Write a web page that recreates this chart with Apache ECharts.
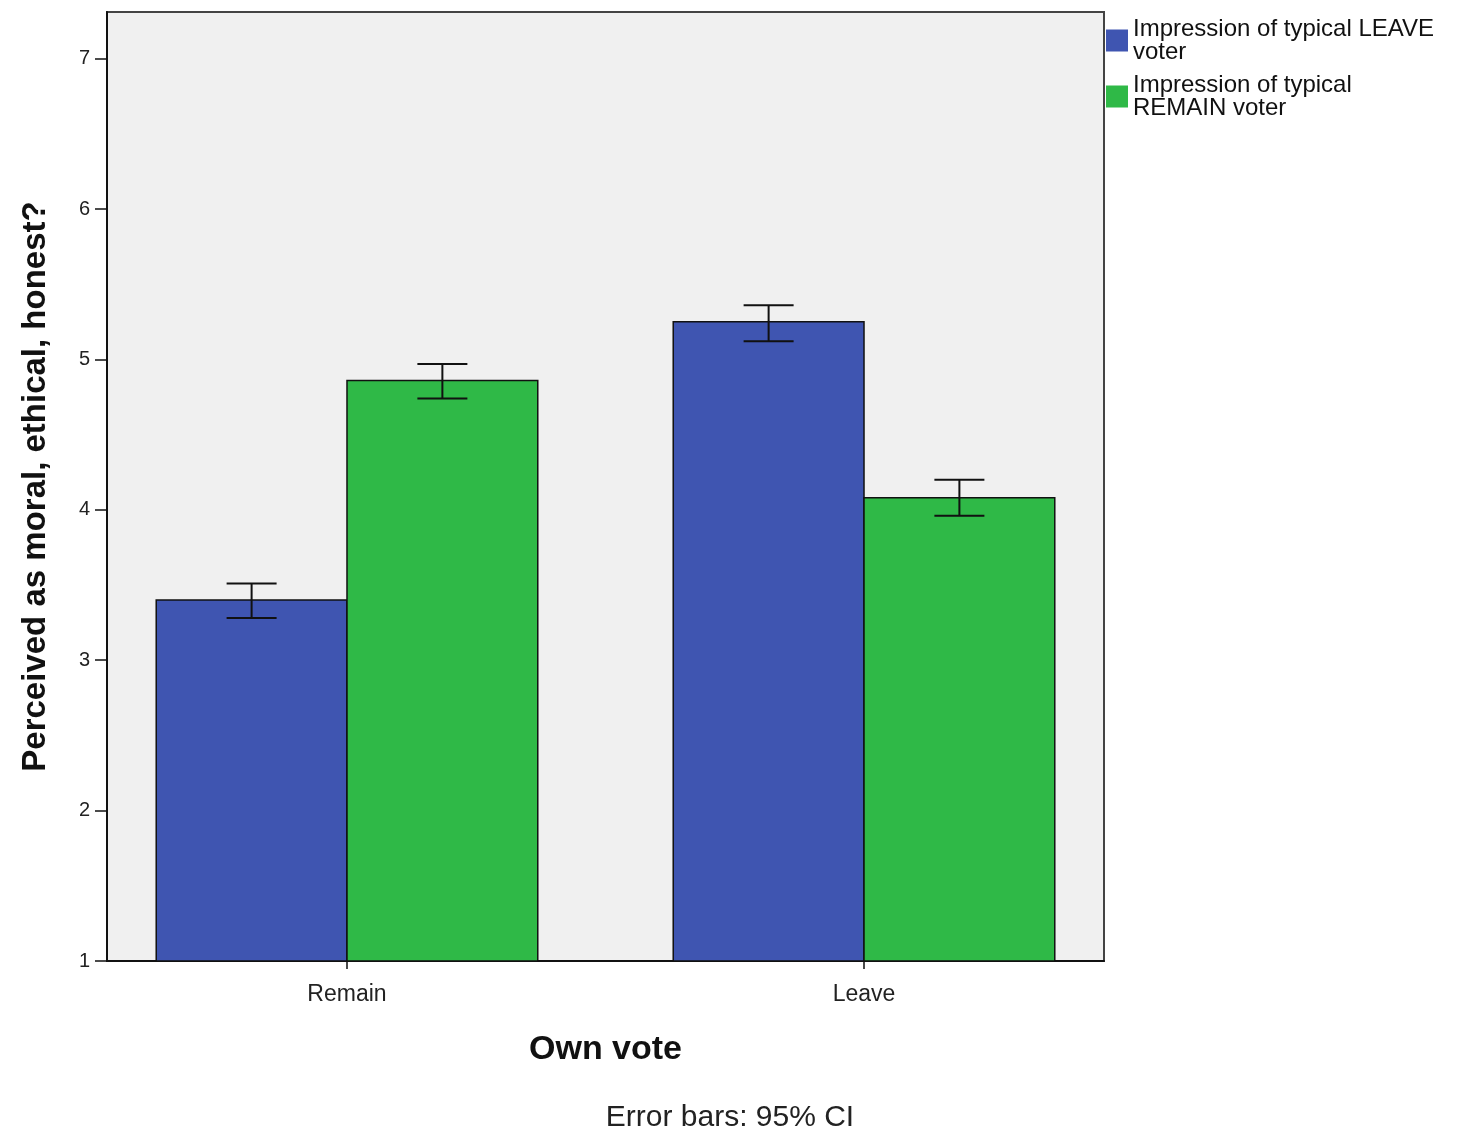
<!DOCTYPE html>
<html>
<head>
<meta charset="utf-8">
<script src="https://cdn.jsdelivr.net/npm/echarts@6/dist/echarts.min.js"></script>
<style>html,body{margin:0;padding:0;background:#fff}#c{width:1468px;height:1136px}</style>
</head>
<body>
<div id="c"></div>
<script>
const categories = ['Remain', 'Leave'];
const seriesNames = ['Impression of typical LEAVE voter', 'Impression of typical REMAIN voter'];
const legendLabels = ['Impression of typical LEAVE\nvoter', 'Impression of typical\nREMAIN voter'];
const leaveImpression = [3.40, 5.25];
const remainImpression = [4.86, 4.08];
const leaveLow = [3.28, 5.12];
const leaveHigh = [3.51, 5.36];
const remainLow = [4.74, 3.96];
const remainHigh = [4.97, 4.20];
const yTicks = [1, 2, 3, 4, 5, 6, 7];

const BLUE = '#3f55b1';
const GREEN = '#2fb947';
const BAR_UNITS = 0.369; // bar width in x-axis units

function barRender(side) {
  return function (params, api) {
    const cat = api.value(0), v = api.value(1);
    const top = api.coord([cat, v]);
    const base = api.coord([cat, 1]);
    const w = api.size([BAR_UNITS, 0])[0];
    const x0 = side < 0 ? top[0] - w : top[0];
    return {
      type: 'rect',
      shape: { x: x0, y: top[1], width: w, height: base[1] - top[1] },
      style: {
        fill: api.visual('color'),
        stroke: '#111',
        lineWidth: 1.5
      }
    };
  };
}

function errRender(side) {
  return function (params, api) {
    const cat = api.value(0);
    const lo = api.coord([cat, api.value(1)]);
    const hi = api.coord([cat, api.value(2)]);
    const w = api.size([BAR_UNITS, 0])[0];
    const cx = lo[0] + side * w / 2;
    const cap = 25;
    const st = { stroke: '#111', lineWidth: 2 };
    return {
      type: 'group',
      children: [
        { type: 'line', shape: { x1: cx, y1: lo[1], x2: cx, y2: hi[1] }, style: st },
        { type: 'line', shape: { x1: cx - cap, y1: hi[1], x2: cx + cap, y2: hi[1] }, style: st },
        { type: 'line', shape: { x1: cx - cap, y1: lo[1], x2: cx + cap, y2: lo[1] }, style: st }
      ]
    };
  };
}

const chart = echarts.init(document.getElementById('c'), null, { renderer: 'canvas' });
const font = '"Liberation Sans", Arial, sans-serif';

chart.setOption({
  animation: false,
  textStyle: { fontFamily: font },
  grid: {
    left: 107, right: 364, top: 12, bottom: 175,
    show: true, backgroundColor: '#f0f0f0', borderColor: '#444', borderWidth: 2
  },
  legend: {
    orient: 'vertical',
    left: 1101, top: 12,
    itemWidth: 22, itemHeight: 22, itemGap: 9,
    icon: 'rect',
    data: seriesNames,
    textStyle: { fontSize: 24, color: '#111', lineHeight: 23, fontFamily: font },
    formatter: function (n) { return legendLabels[seriesNames.indexOf(n)]; }
  },
  xAxis: {
    type: 'value',
    min: -0.4642, max: 1.4642,
    splitLine: { show: false },
    axisLine: { show: true, onZero: false, lineStyle: { color: '#111', width: 2 } },
    axisTick: { show: true, customValues: [0, 1], length: 8, inside: false, lineStyle: { color: '#111', width: 1.5 } },
    axisLabel: {
      customValues: [0, 1], fontSize: 23, color: '#222', margin: 22,
      formatter: function (v) { return categories[Math.round(v)]; }
    },
    name: 'Own vote', nameLocation: 'middle', nameGap: 72,
    nameTextStyle: { fontSize: 34, fontWeight: 'bold', color: '#111' }
  },
  yAxis: {
    type: 'value',
    min: 1, max: 7.31, interval: 1,
    splitLine: { show: false },
    axisLine: { show: true, onZero: false, lineStyle: { color: '#111', width: 2 } },
    axisTick: { show: true, length: 12, lineStyle: { color: '#111', width: 1.5 } },
    axisLabel: {
      fontSize: 20, color: '#222', margin: 17, showMaxLabel: false,
      formatter: function (v) { return yTicks.indexOf(v) >= 0 ? String(v) : ''; }
    },
    name: 'Perceived as moral, ethical, honest?', nameLocation: 'middle', nameGap: 55,
    nameTextStyle: { fontSize: 33, fontWeight: 'bold', color: '#111' }
  },
  graphic: [{
    type: 'text', x: 730, y: 1118,
    style: { text: 'Error bars: 95% CI', fontSize: 30, fill: '#222', textAlign: 'center', textVerticalAlign: 'middle', fontFamily: font }
  }],
  series: [
    {
      name: seriesNames[0], type: 'custom', renderItem: barRender(-1),
      itemStyle: { color: BLUE },
      encode: { x: 0, y: 1 },
      data: categories.map((c, i) => [i, leaveImpression[i]]), z: 2
    },
    {
      name: seriesNames[1], type: 'custom', renderItem: barRender(1),
      itemStyle: { color: GREEN },
      encode: { x: 0, y: 1 },
      data: categories.map((c, i) => [i, remainImpression[i]]), z: 2
    },
    {
      name: 'ciLeave', type: 'custom', renderItem: errRender(-1),
      encode: { x: 0, y: [1, 2] },
      data: categories.map((c, i) => [i, leaveLow[i], leaveHigh[i]]), z: 3
    },
    {
      name: 'ciRemain', type: 'custom', renderItem: errRender(1),
      encode: { x: 0, y: [1, 2] },
      data: categories.map((c, i) => [i, remainLow[i], remainHigh[i]]), z: 3
    }
  ]
});
</script>
</body>
</html>
